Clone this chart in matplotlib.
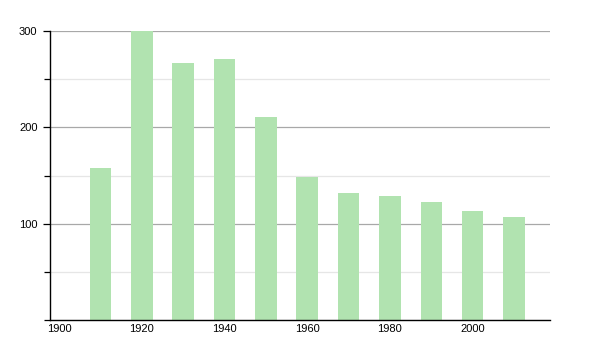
import matplotlib
matplotlib.use("Agg")
import matplotlib.pyplot as plt
from matplotlib.ticker import MultipleLocator

plt.rcParams['font.family'] = ['Liberation Sans', 'DejaVu Sans']

years = [1910, 1920, 1930, 1940, 1950, 1960, 1970, 1980, 1990, 2000, 2010]
values = [158, 300, 267, 271, 211, 148, 132, 129, 122, 113, 107]
xticks = [1900, 1920, 1940, 1960, 1980, 2000]
yticks = [100, 200, 300]

fig = plt.figure(figsize=(6, 3.5), dpi=100)
ax = fig.add_axes([0.0833, 0.0857, 0.8334, 0.8257])

ax.bar(years, values, width=5.2, color='#b1e3b0', zorder=2)

ax.set_xlim(1897.8, 2018.7)
ax.set_ylim(0, 300)
ax.set_xticks(xticks)
ax.set_yticks(yticks)
ax.yaxis.set_minor_locator(MultipleLocator(50))

ax.grid(axis='y', which='major', color='#a8a8a8', linewidth=0.9, zorder=1)
ax.grid(axis='y', which='minor', color='#e6e6e6', linewidth=0.9, zorder=1)

for s in ['top', 'right']:
    ax.spines[s].set_visible(False)
for s in ['left', 'bottom']:
    ax.spines[s].set_color('black')
    ax.spines[s].set_linewidth(1.0)

ax.tick_params(axis='x', length=0, labelsize=8, pad=3)
ax.tick_params(axis='y', which='major', length=5, width=0.9, labelsize=8, pad=4)
ax.tick_params(axis='y', which='minor', length=4, width=0.9)

fig.savefig('out.png', dpi=100)
